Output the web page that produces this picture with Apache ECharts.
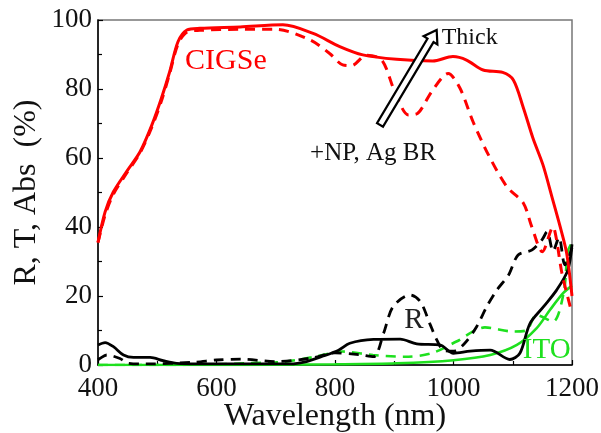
<!DOCTYPE html>
<html>
<head>
<meta charset="utf-8">
<script src="https://cdn.jsdelivr.net/npm/echarts@6/dist/echarts.min.js"></script>
<style>
  html, body { margin: 0; padding: 0; background: #fff; }
  #chart { width: 601px; height: 433px; }
</style>
</head>
<body>
<div id="chart"></div>
<script>
// Absorption (red), reflection (black) and transmission (green) spectra.
// Solid = thick absorber, dashed = +NP, Ag back reflector.
const absThickX = [400,412,426,448,471,491,507,521,535,550,572,640,712,763,808,847,904,965,999,1022,1050,1083,1101,1118,1134,1151,1166,1180,1191,1200];
const absThickY = [35.5,44.4,50.2,56,61.8,69.6,77.3,85,93.7,97.1,97.6,98,98.6,96.1,92.3,89.9,88.6,88.1,89.4,88.4,85.5,84.8,82.6,74.5,65.8,58,48.8,40.1,32.4,20];

const absNpX = [400,412,426,448,471,491,507,521,535,550,572,640,700,758,791,813,828,853,879,901,924,940,963,991,1011,1033,1059,1090,1118,1132,1150,1168,1174,1183,1197,1200];
const absNpY = [35.5,43.5,49.5,55.5,61.5,69,76.5,84.5,93,96.5,97,97.3,97.3,94.2,90.3,87,86.8,89.8,88.4,79.2,72.5,73,79.2,84.5,80.2,70.5,60.9,51.7,46.9,40.1,32.8,40,36.2,26.6,16.9,15];

const refThickX = [400,412,426,443,460,488,510,533,611,724,752,780,806,825,865,910,938,977,1000,1028,1062,1095,1112,1129,1152,1174,1193,1200];
const refThickY = [5.8,6.5,5.3,2.9,2.2,2.2,1.25,0.5,0.3,0.3,1,2.6,4.3,6.3,7.4,7.5,6.1,5.8,3.4,4,4.3,1.6,3.4,12,16.9,21.7,27.5,35];

const refNpX = [400,403,415,437,451,480,563,600,641,700,760,800,840,865,882,898,927,944,960,972,983,1000,1019,1039,1056,1073,1093,1109,1132,1149,1158,1168,1178,1188,1200];
const refNpY = [1.5,1.9,2.9,1.9,0.5,0.3,0.8,1.45,1.7,1,2,3.5,3,2.4,9.2,16.9,20.3,18.4,12,7.2,4.3,4,6.3,11.1,16.9,21.7,26.1,31.9,33.3,36.2,38.6,33,37,29,34];

const traThickX = [400,500,600,700,800,904,1000,1062,1107,1140,1163,1185,1200];
const traThickY = [0,0,0,0.1,0.2,0.5,1.4,2.9,5.8,10.6,16,20.8,23];

const traNpX = [400,500,600,650,712,741,766,813,864,918,963,1005,1053,1101,1123,1140,1168,1186,1193,1200];
const traNpY = [0,0,0.2,0.5,0.9,1.6,2.4,3.9,2.9,2.4,3.4,6.8,10.9,9.7,10,14.5,12.6,21,33,35.5];

// Arrow from the "+NP, Ag BR" label toward "Thick": [x0, y0, x1, y1]
const arrowData = [[876, 69.6, 971.6, 97.1]];

// Annotation labels: [text, wavelength, value]
const labels = [
  ['CIGSe', 547, 88.1],
  ['Thick', 980, 94.8],
  ['+NP, Ag BR', 758, 61.4],
  ['R', 933, 13],
  ['ITO', 1117, 4.3]
];

const xTicks = [400, 600, 800, 1000, 1200];
const yTicks = [0, 20, 40, 60, 80, 100];

const RED = '#ff0000', BLACK = '#000000', GREEN = '#1ee01e';
const FONT = "'Liberation Serif', 'Times New Roman', serif";
const DASH = [10, 7];

function pairs(xs, ys) { return xs.map((x, i) => [x, ys[i]]); }

function lineSeries(xs, ys, color, dashed, width) {
  return {
    type: 'line',
    data: pairs(xs, ys),
    showSymbol: false,
    smooth: 0.3,
    lineStyle: { color: color, width: width, type: dashed ? DASH : 'solid', cap: 'butt' },
    animation: false,
    silent: true,
    z: 3
  };
}

const chart = echarts.init(document.getElementById('chart'), null, { renderer: 'canvas' });

const option = {
  backgroundColor: '#ffffff',
  animation: false,
  grid: {
    left: 98, right: 29, top: 20, bottom: 68,
    show: true, borderColor: '#777', borderWidth: 1.5,
    containLabel: false, outerBoundsMode: 'none'
  },
  xAxis: {
    type: 'value', min: xTicks[0], max: xTicks[xTicks.length - 1], interval: 200,
    name: 'Wavelength (nm)', nameLocation: 'middle', nameGap: 36, nameMoveOverlap: false,
    nameTextStyle: { fontFamily: FONT, fontSize: 32, color: '#111' },
    axisLine: { show: true, onZero: false, lineStyle: { color: '#000', width: 1.5 } },
    axisTick: { show: true, inside: true, length: 5, lineStyle: { color: '#000', width: 1.2 } },
    minorTick: { show: true, splitNumber: 2, length: 4, lineStyle: { color: '#000', width: 1.2 } },
    axisLabel: { fontFamily: FONT, fontSize: 27, color: '#111', margin: 10, formatter: v => String(v) },
    splitLine: { show: false }
  },
  yAxis: {
    type: 'value', min: yTicks[0], max: yTicks[yTicks.length - 1], interval: 20,
    name: 'R, T, Abs  (%)', nameLocation: 'middle', nameGap: 55, nameRotate: 90, nameMoveOverlap: false,
    nameTextStyle: { fontFamily: FONT, fontSize: 32, color: '#111' },
    axisLine: { show: true, onZero: false, lineStyle: { color: '#000', width: 1.5 } },
    axisTick: { show: true, inside: true, length: 5, lineStyle: { color: '#000', width: 1.2 } },
    minorTick: { show: true, splitNumber: 2, length: 4, lineStyle: { color: '#000', width: 1.2 } },
    axisLabel: { fontFamily: FONT, fontSize: 27, color: '#111', margin: 6, formatter: v => String(v) },
    splitLine: { show: false }
  },
  series: [
    lineSeries(traThickX, traThickY, GREEN, false, 2.6),
    lineSeries(traNpX, traNpY, GREEN, true, 2.6),
    lineSeries(refThickX, refThickY, BLACK, false, 2.8),
    lineSeries(refNpX, refNpY, BLACK, true, 2.8),
    lineSeries(absNpX, absNpY, RED, true, 3),
    lineSeries(absThickX, absThickY, RED, false, 3),
    {
      type: 'custom',
      data: arrowData,
      silent: true,
      z: 10,
      renderItem: function (params, api) {
        const p0 = api.coord([api.value(0), api.value(1)]);
        const p1 = api.coord([api.value(2), api.value(3)]);
        const dx = p1[0] - p0[0], dy = p1[1] - p0[1];
        const len = Math.sqrt(dx * dx + dy * dy);
        const ux = dx / len, uy = dy / len;
        const nx = -uy, ny = ux;
        const sw = 3.5, hw = 8, hl = 12;
        const nk = [p1[0] - ux * hl, p1[1] - uy * hl];
        const pt = (b, s) => [b[0] + nx * s, b[1] + ny * s];
        const points = [
          pt(p0, sw), pt(nk, sw), pt(nk, hw), p1, pt(nk, -hw), pt(nk, -sw), pt(p0, -sw)
        ];
        return {
          type: 'polygon',
          shape: { points: points },
          style: { fill: '#fff', stroke: '#000', lineWidth: 2.2 }
        };
      }
    }
  ]
};

chart.setOption(option);

// Place annotation texts at their data positions.
const labelStyles = {
  'CIGSe': { fill: RED, fontSize: 30, align: 'left' },
  'Thick': { fill: '#111', fontSize: 24, align: 'left' },
  '+NP, Ag BR': { fill: '#111', fontSize: 25, align: 'left' },
  'R': { fill: '#222', fontSize: 29, align: 'center' },
  'ITO': { fill: GREEN, fontSize: 29, align: 'left' }
};
const graphics = labels.map(([txt, x, y]) => {
  const p = chart.convertToPixel({ gridIndex: 0 }, [x, y]);
  const s = labelStyles[txt];
  return {
    type: 'text', x: p[0], y: p[1], z: 20, silent: true,
    style: { text: txt, fill: s.fill, font: s.fontSize + 'px ' + FONT, textAlign: s.align, textVerticalAlign: 'middle' }
  };
});
chart.setOption({ graphic: graphics });
</script>
</body>
</html>
